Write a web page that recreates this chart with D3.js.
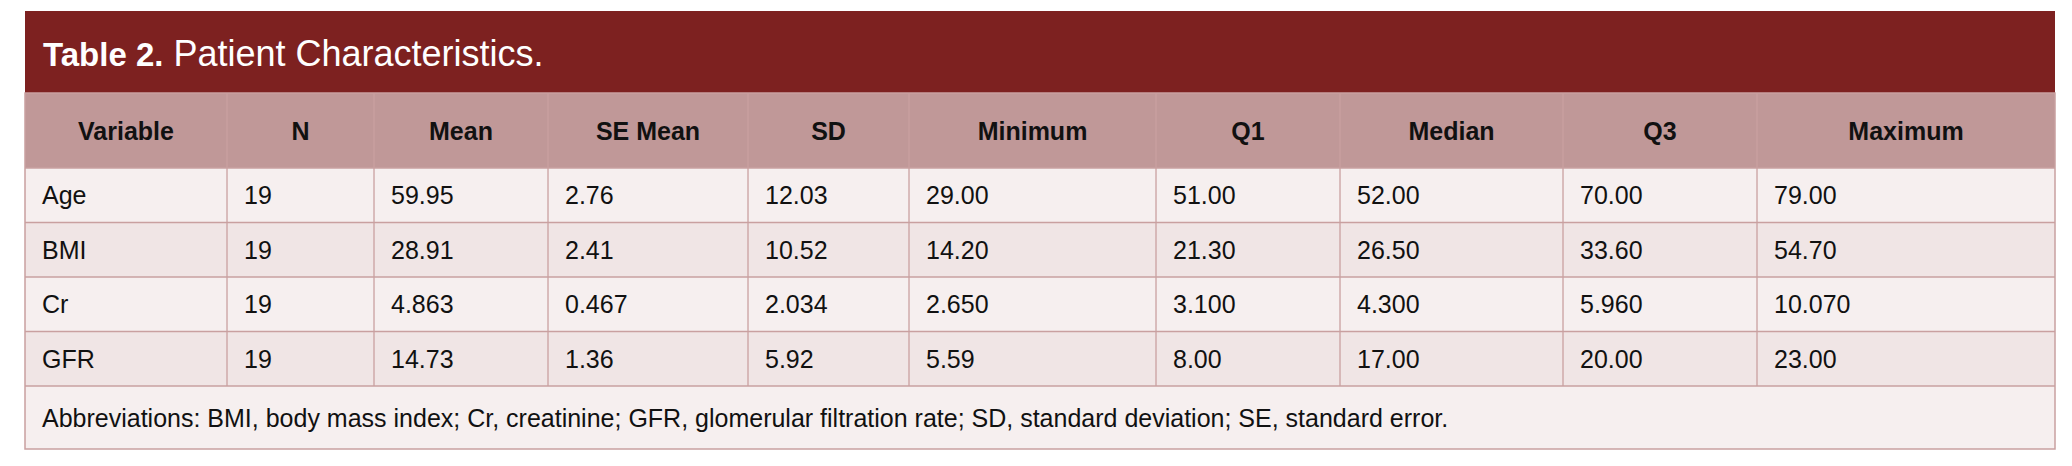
<!DOCTYPE html>
<html><head><meta charset="utf-8">
<script src="https://cdn.jsdelivr.net/npm/d3@7"></script>
<style>body{margin:0;background:#fff}</style></head>
<body><svg id="c" width="2072" height="466"></svg>
<script>
const columns = ["Variable","N","Mean","SE Mean","SD","Minimum","Q1","Median","Q3","Maximum"];
const variables = ["Age","BMI","Cr","GFR"];
const nValues = ["19","19","19","19"];
const means = ["59.95","28.91","4.863","14.73"];
const seMeans = ["2.76","2.41","0.467","1.36"];
const sds = ["12.03","10.52","2.034","5.92"];
const minimums = ["29.00","14.20","2.650","5.59"];
const q1s = ["51.00","21.30","3.100","8.00"];
const medians = ["52.00","26.50","4.300","17.00"];
const q3s = ["70.00","33.60","5.960","20.00"];
const maximums = ["79.00","54.70","10.070","23.00"];
const titleBold = "Table 2.";
const titleRest = " Patient Characteristics.";
const footnote = "Abbreviations: BMI, body mass index; Cr, creatinine; GFR, glomerular filtration rate; SD, standard deviation; SE, standard error.";

const rows = variables.map((v,i)=>[v,nValues[i],means[i],seMeans[i],sds[i],minimums[i],q1s[i],medians[i],q3s[i],maximums[i]]);
const font = "'Liberation Sans Narrow','Arial Narrow','Liberation Sans',sans-serif";
const svg = d3.select("#c");
const L=25,R=2055;
const edges=[25,227,374,548,748,909,1156,1340,1563,1757,2055];
const border="#c9a0a0";
// title
svg.append("rect").attr("x",L).attr("y",11).attr("width",R-L).attr("height",82).attr("fill","#7d2120");
const t=svg.append("text").attr("x",L+18).attr("y",66).attr("fill","#fff").attr("font-family",font).attr("font-size",36);
t.append("tspan").attr("font-weight","bold").attr("font-family","'Liberation Sans',Arial,sans-serif").attr("font-size",33).text(titleBold);
t.append("tspan").text(titleRest);
// header
const hy=93,hh=75,rh=54.5;
svg.append("rect").attr("x",L).attr("y",hy).attr("width",R-L).attr("height",hh).attr("fill","#c09898");
columns.forEach((c,j)=>{
  svg.append("text").attr("x",(edges[j]+edges[j+1])/2).attr("y",hy+hh/2+9).attr("text-anchor","middle")
   .attr("font-family",font).attr("font-weight","bold").attr("font-size",25).attr("fill","#111").text(c);
});
const y0=hy+hh;
rows.forEach((r,i)=>{
  const y=y0+i*rh;
  svg.append("rect").attr("x",L).attr("y",y).attr("width",R-L).attr("height",rh).attr("fill",i%2?"#f0e5e5":"#f6efef");
  r.forEach((v,j)=>{
    svg.append("text").attr("x",edges[j]+17).attr("y",y+rh/2+9).attr("font-family",font).attr("font-size",25).attr("fill","#111").text(v);
  });
});
const fy=y0+4*rh, fh=449-fy;
svg.append("rect").attr("x",L).attr("y",fy).attr("width",R-L).attr("height",fh).attr("fill","#f6efef");
svg.append("text").attr("x",L+17).attr("y",fy+fh/2+9).attr("font-family",font).attr("font-size",25).attr("fill","#111").text(footnote);
// grid lines
edges.slice(1,-1).forEach(x=>svg.append("line").attr("x1",x).attr("x2",x).attr("y1",hy).attr("y2",fy).attr("stroke",i=>border).attr("stroke-width",1.3));
for(let i=0;i<=4;i++){const y=y0+i*rh;svg.append("line").attr("x1",L).attr("x2",R).attr("y1",y).attr("y2",y).attr("stroke",border).attr("stroke-width",1.3);}
svg.append("rect").attr("x",L).attr("y",hy).attr("width",R-L).attr("height",449-hy).attr("fill","none").attr("stroke",border).attr("stroke-width",1.5);
</script></body></html>
